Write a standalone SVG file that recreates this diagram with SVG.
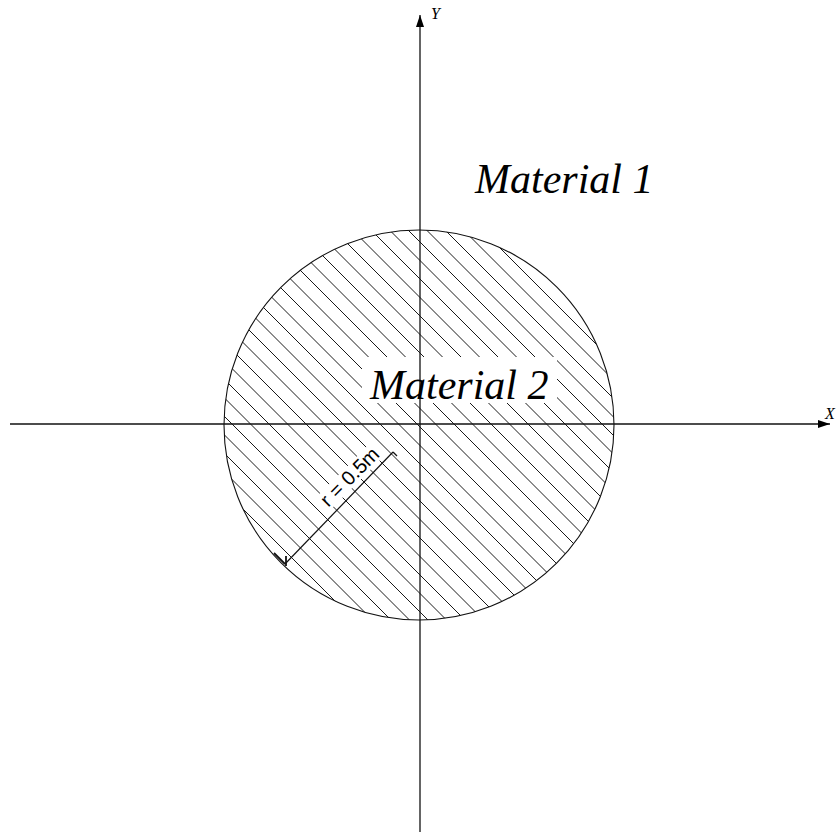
<svg xmlns="http://www.w3.org/2000/svg" width="836" height="832" viewBox="0 0 836 832">
  <style>
    .axis { stroke: #111; stroke-width: 1.3; fill: none; }
    .outline { stroke: #111; stroke-width: 1.1; fill: none; }
    .hatch { stroke: #1a1a1a; stroke-width: 1; fill: none; }
    .dim { stroke: #111; stroke-width: 1.2; fill: none; }
    .mat { font-family: "Liberation Serif", "Times New Roman", serif; font-style: italic; font-size: 42px; fill: #000; }
    .axlbl { font-family: "Liberation Serif", "Times New Roman", serif; font-style: italic; font-size: 16px; fill: #000; }
    .dimtxt { font-family: "Liberation Sans", Arial, sans-serif; font-size: 20px; fill: #000; }
  </style>
  <defs>
    <clipPath id="disk">
      <circle cx="419" cy="425" r="195"/>
    </clipPath>
    <marker id="arrow" viewBox="0 0 12 8" refX="12" refY="4" markerWidth="12" markerHeight="8" markerUnits="userSpaceOnUse" orient="auto">
      <path d="M0,0 L12,4 L0,8 Z" fill="#000"/>
    </marker>
  </defs>
  <rect width="836" height="832" fill="#fff"/>

  <g id="region-material2">
    <path class="hatch" clip-path="url(#disk)" d="M200,-52 L640,388 M200,-33.5 L640,406.5 M200,-15 L640,425 M200,3.5 L640,443.5 M200,22 L640,462 M200,40.5 L640,480.5 M200,59 L640,499 M200,77.5 L640,517.5 M200,96 L640,536 M200,114.5 L640,554.5 M200,133 L640,573 M200,151.5 L640,591.5 M200,170 L640,610 M200,188.5 L640,628.5 M200,207 L640,647 M200,225.5 L640,665.5 M200,244 L640,684 M200,262.5 L640,702.5 M200,281 L640,721 M200,299.5 L640,739.5 M200,318 L640,758 M200,336.5 L640,776.5 M200,355 L640,795 M200,373.5 L640,813.5 M200,392 L640,832 M200,410.5 L640,850.5 M200,429 L640,869 M200,447.5 L640,887.5 M200,466 L640,906"/>
    <rect x="362" y="357" width="195" height="46" fill="#fff"/>
    <rect x="-40" y="-16" width="80" height="19" fill="#fff" transform="translate(354.5,481.5) rotate(-45)"/>
    <circle class="outline" cx="419" cy="425" r="195"/>
  </g>

  <g id="connectors">
    <line id="x-axis" class="axis" x1="10" y1="424" x2="830" y2="424" marker-end="url(#arrow)"/>
    <line id="y-axis" class="axis" x1="420" y1="832" x2="420" y2="15" marker-end="url(#arrow)"/>
    <g id="radius-dimension" class="dim">
      <line x1="393" y1="452" x2="285" y2="564"/>
      <line x1="393" y1="452" x2="397" y2="456"/>
      <line x1="285" y1="564" x2="274" y2="553" stroke-width="1.8"/>
      <line x1="286" y1="556" x2="286" y2="566" stroke-width="1.8"/>
    </g>
  </g>

  <g id="labels">
    <text class="axlbl" x="431" y="19">Y</text>
    <text class="axlbl" x="825" y="419">X</text>
    <text id="label-material1" class="mat" x="475" y="193">Material 1</text>
    <text id="label-material2" class="mat" x="370" y="399">Material 2</text>
    <text class="dimtxt" text-anchor="middle" transform="translate(354.5,481.5) rotate(-45)">r = 0.5m</text>
  </g>
</svg>
